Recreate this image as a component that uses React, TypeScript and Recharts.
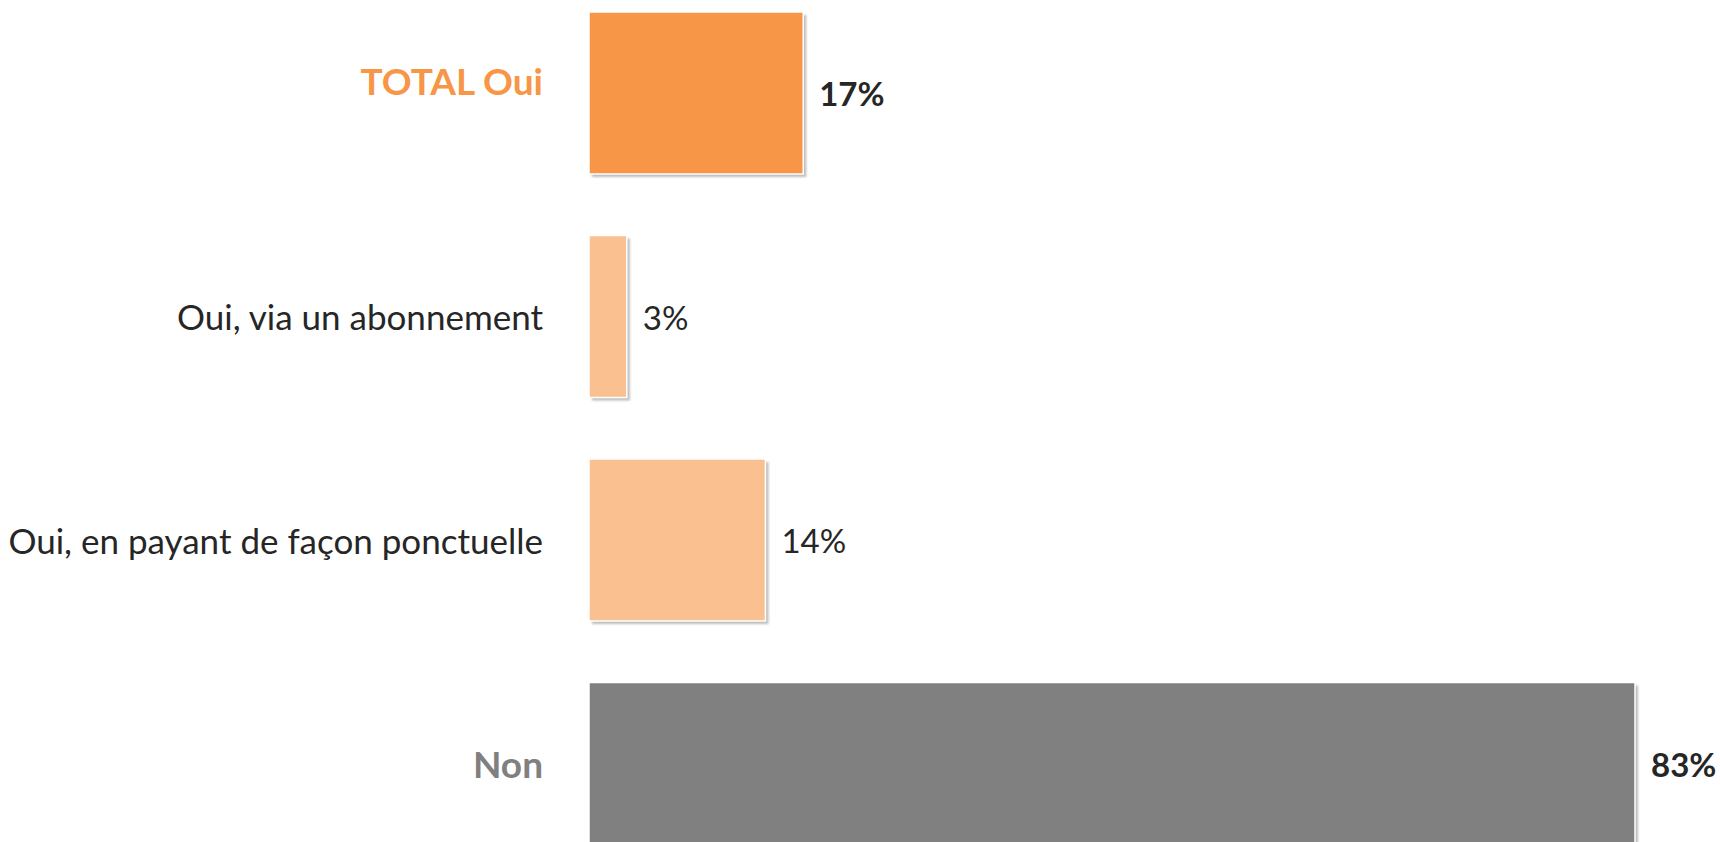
import React from "react";
import { BarChart, Bar, XAxis, YAxis, Cell, LabelList } from "recharts";

const categories = [
  "TOTAL Oui",
  "Oui, via un abonnement",
  "Oui, en payant de façon ponctuelle",
  "Non",
];
const values = [17, 3, 14, 83];

const FONT = "Lato, 'Open Sans', sans-serif";
const TEXT_DARK = "#262626";

const BAR_COLORS: Record<string, string> = {
  "TOTAL Oui": "#F79646",
  "Oui, via un abonnement": "#FAC090",
  "Oui, en payant de façon ponctuelle": "#FAC090",
  Non: "#808080",
};

const TICK_STYLE: Record<string, { color: string; bold: boolean; dy: number }> = {
  "TOTAL Oui": { color: "#F79646", bold: true, dy: -12 },
  "Oui, via un abonnement": { color: TEXT_DARK, bold: false, dy: 0 },
  "Oui, en payant de façon ponctuelle": { color: TEXT_DARK, bold: false, dy: 0 },
  Non: { color: "#808080", bold: true, dy: 0 },
};

const data = categories.map((name, i) => ({ name, value: values[i] }));

function CategoryTick(props: any) {
  const { x, y, payload } = props;
  const s = TICK_STYLE[payload.value];
  return (
    <text
      x={x}
      y={y + s.dy}
      textAnchor="end"
      dominantBaseline="central"
      fill={s.color}
      fontFamily={FONT}
      fontSize={s.bold ? 37 : 35}
      fontWeight={s.bold ? 700 : 400}
    >
      {payload.value}
    </text>
  );
}

function ShadowBar(props: any) {
  const { x, y, width, height, fill } = props;
  if (width == null || width <= 0) return null;
  return (
    <g>
      <rect
        x={x + 3}
        y={y + 3}
        width={width}
        height={height}
        fill="#bdbdbd"
        filter="url(#barShadow)"
      />
      <rect x={x} y={y} width={width} height={height} fill={fill} stroke="#fff" strokeWidth={1.5} />
    </g>
  );
}

function ValueLabel(props: any) {
  const { x, y, width, height, value, index } = props;
  const bold = categories[index] === "TOTAL Oui" || categories[index] === "Non";
  return (
    <text
      x={x + width + 16}
      y={y + height / 2}
      dominantBaseline="central"
      fill={TEXT_DARK}
      fontFamily={FONT}
      fontSize={33}
      fontWeight={bold ? 700 : 400}
    >
      {`${value}%`}
    </text>
  );
}

export default function App() {
  return (
    <div
      style={{
        position: "fixed",
        left: 0,
        top: 0,
        width: 1720,
        height: 842,
        overflow: "hidden",
        background: "#fff",
      }}
    >
      <div style={{ position: "absolute", left: 0, top: -19 }}>
        <BarChart
          width={1720}
          height={894}
          data={data}
          layout="vertical"
          margin={{ top: 0, right: 85, bottom: 0, left: 0 }}
        >
          <defs>
            <filter id="barShadow" x="-5%" y="-5%" width="110%" height="110%">
              <feGaussianBlur stdDeviation="1.2" />
            </filter>
          </defs>
          <XAxis type="number" domain={[0, 83]} hide />
          <YAxis
            type="category"
            dataKey="name"
            width={589}
            axisLine={false}
            tickLine={false}
            tickSize={0}
            tickMargin={46}
            tick={<CategoryTick />}
            interval={0}
          />
          <Bar dataKey="value" barSize={162} shape={<ShadowBar />} isAnimationActive={false}>
            {data.map((d) => (
              <Cell key={d.name} fill={BAR_COLORS[d.name]} />
            ))}
            <LabelList dataKey="value" content={<ValueLabel />} />
          </Bar>
        </BarChart>
      </div>
    </div>
  );
}
